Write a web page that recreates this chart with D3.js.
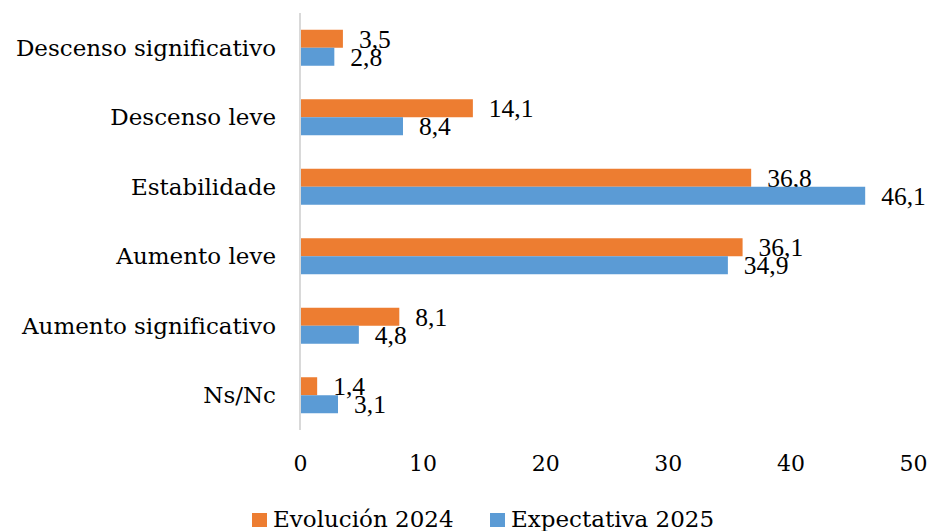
<!DOCTYPE html>
<html lang="es">
  <head>
    <meta charset="utf-8" />
    <script src="https://d3js.org/d3.v7.min.js"></script>
    <style>
      body { margin: 0; background: #fff; }
      .cat { font-family: "DejaVu Serif", serif; font-size: 23px; fill: #000; }
      .tick text { font-family: "DejaVu Serif", serif; font-size: 22px; fill: #000; }
      .val { font-family: "Liberation Serif", "Times New Roman", serif; font-size: 25.5px; fill: #000; }
      .legend text { font-family: "DejaVu Serif", serif; font-size: 23px; fill: #000; }
    </style>
  </head>
  <body>
    <svg id="chart" width="929" height="531"></svg>
    <script>
      const categories = ["Descenso significativo", "Descenso leve", "Estabilidade", "Aumento leve", "Aumento significativo", "Ns/Nc"];
      const seriesNames = ["Evolución 2024", "Expectativa 2025"];
      const evolucion2024 = [3.5, 14.1, 36.8, 36.1, 8.1, 1.4];
      const expectativa2025 = [2.8, 8.4, 46.1, 34.9, 4.8, 3.1];
      const xTicks = [0, 10, 20, 30, 40, 50];
      const colors = ["#ED7D31", "#5B9BD5"];

      const svg = d3.select("#chart");
      const margin = {top: 13, left: 300, right: 16, bottom: 101};
      const width = 929, height = 531;

      const x = d3.scaleLinear().domain([0, 50]).range([margin.left, 913]);
      const y = d3.scaleBand().domain(categories).range([margin.top, height - margin.bottom]);
      const barH = 18;

      const rows = categories.map((c, i) => ({cat: c, vals: [evolucion2024[i], expectativa2025[i]]}));
      const fmt = v => d3.format(".1f")(v).replace(".", ",");

      // bars
      const g = svg.append("g");
      rows.forEach(r => {
        const cy = y(r.cat) + y.bandwidth() / 2;
        r.vals.forEach((v, k) => {
          const top = cy - barH + k * barH;
          g.append("rect")
            .attr("x", x(0) + 1)
            .attr("y", top)
            .attr("width", x(v) - x(0) - 1)
            .attr("height", barH)
            .attr("fill", colors[k]);
          g.append("text")
            .attr("class", "val")
            .attr("x", x(v) + 16)
            .attr("y", top + barH / 2)
            .attr("dy", "0.36em")
            .text(fmt(v));
        });
        svg.append("text")
          .attr("class", "cat")
          .attr("x", 276)
          .attr("y", cy)
          .attr("dy", "0.35em")
          .attr("text-anchor", "end")
          .text(r.cat);
      });

      // vertical axis line
      svg.append("line")
        .attr("x1", x(0)).attr("x2", x(0))
        .attr("y1", margin.top).attr("y2", height - margin.bottom)
        .attr("stroke", "#d9d9d9").attr("stroke-width", 2);

      // x axis labels
      const xAxis = d3.axisBottom(x).tickValues(xTicks).tickSize(0).tickPadding(0);
      svg.append("g")
        .attr("transform", "translate(0,455)")
        .call(xAxis)
        .call(a => a.select(".domain").remove())
        .selectAll("text").attr("dy", "0.72em");

      // legend
      const legend = svg.append("g").attr("class", "legend");
      const legX = [252, 490];
      seriesNames.forEach((s, k) => {
        legend.append("rect")
          .attr("x", legX[k]).attr("y", 513)
          .attr("width", 15).attr("height", 14)
          .attr("fill", colors[k]);
        legend.append("text")
          .attr("x", legX[k] + 21).attr("y", 527)
          .text(s);
      });
    </script>
  </body>
</html>
